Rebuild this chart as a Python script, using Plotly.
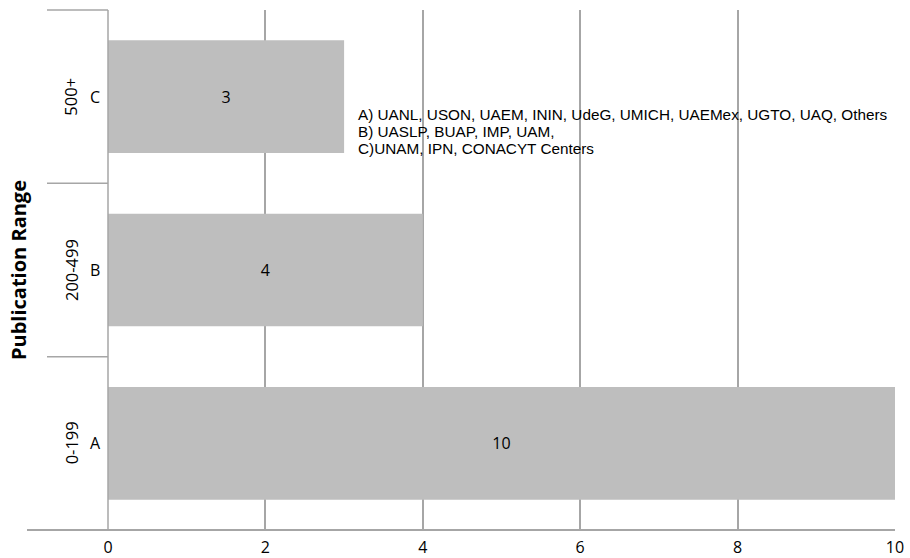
import plotly.graph_objects as go

categories = ["A", "B", "C"]
ranges = ["0-199", "200-499", "500+"]
values = [10, 4, 3]
x_ticks = [0, 2, 4, 6, 8, 10]
note_lines = [
    "A) UANL, USON, UAEM, ININ, UdeG, UMICH, UAEMex, UGTO, UAQ, Others",
    "B) UASLP, BUAP, IMP, UAM,",
    "C)UNAM, IPN, CONACYT Centers",
]

W, H = 910, 558
ml, mr, mt, mb = 108, 15, 10, 28
pw = W - ml - mr
font = "Open Sans, Liberation Sans, sans-serif"

fig = go.Figure()
fig.add_trace(go.Bar(
    y=categories, x=values, orientation="h",
    marker=dict(color="#BEBEBE", line=dict(width=0)),
    text=[str(v) for v in values], textposition="inside", insidetextanchor="middle",
    textfont=dict(family=font, size=16, color="#000000"),
    hoverinfo="skip",
))

grid = "#A6A6A6"
fig.update_layout(
    width=W, height=H, margin=dict(l=ml, r=mr, t=mt, b=mb, autoexpand=False),
    plot_bgcolor="white", paper_bgcolor="white",
    bargap=0.35, showlegend=False,
    xaxis=dict(range=[0, 10], tickvals=x_ticks, showgrid=True, gridcolor=grid, gridwidth=1.5,
               zeroline=False, showline=False, ticks="", ticklabelstandoff=6, automargin=False,
               tickfont=dict(family=font, size=16, color="#000"),
               fixedrange=True),
    yaxis=dict(categoryorder="array", categoryarray=categories, range=[-0.5, 2.5],
               showticklabels=False, showgrid=False, zeroline=False, showline=False,
               ticks="", fixedrange=True, automargin=False),
)

# axis lines and separators
fig.add_shape(type="line", xref="paper", yref="paper", x0=0, x1=0, y0=0, y1=1,
              line=dict(color=grid, width=1.5))
fig.add_shape(type="line", xref="paper", yref="paper", x0=(27 - ml) / pw, x1=1, y0=0, y1=0,
              line=dict(color=grid, width=2))
for i in range(1, len(categories) + 1):
    fig.add_shape(type="line", xref="paper", yref="paper", x0=(47 - ml) / pw, x1=0,
                  y0=i / len(categories), y1=i / len(categories),
                  line=dict(color=grid, width=1.5))

for c, r in zip(categories, ranges):
    fig.add_annotation(x=(95 - ml) / pw, xref="paper", y=c, yref="y", text=c, showarrow=False,
                       xanchor="center", yanchor="middle",
                       font=dict(family=font, size=16, color="#000"))
    fig.add_annotation(x=(71 - ml) / pw, xref="paper", y=c, yref="y", text=r, showarrow=False,
                       textangle=-90, xanchor="center", yanchor="middle",
                       font=dict(family=font, size=16.5, color="#000"))

fig.add_annotation(x=(18 - ml) / pw, xref="paper", y=0.5, yref="paper", text="<b>Publication Range</b>",
                   showarrow=False, textangle=-90, xanchor="center", yanchor="middle",
                   font=dict(family=font, size=20, color="#000"))

for k, line in enumerate(note_lines):
    fig.add_annotation(x=3.15, xref="x", y="C", yref="y", yshift=-(17.5 + 17 * k), text=line,
                       showarrow=False, xanchor="left", yanchor="middle", align="left",
                       font=dict(family="Liberation Sans, Arial, sans-serif", size=15.3, color="#000"))

fig.write_html("out.html")
